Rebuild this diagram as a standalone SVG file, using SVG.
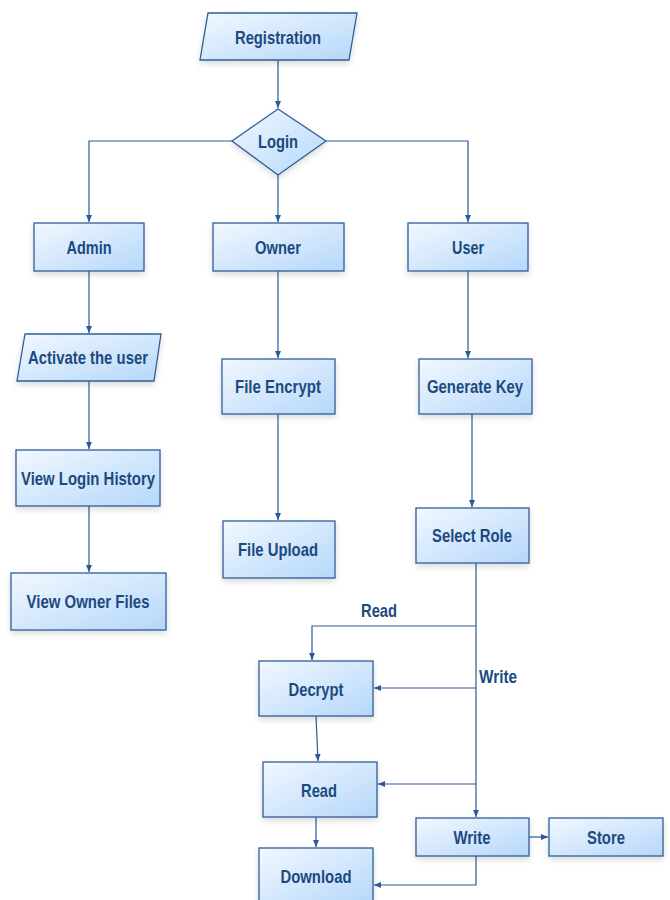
<svg xmlns="http://www.w3.org/2000/svg" width="670" height="900" viewBox="0 0 670 900">
<defs>
<linearGradient id="g" x1="0" y1="0" x2="1" y2="1">
<stop offset="0" stop-color="#f2f8ff"/>
<stop offset="1" stop-color="#b5d7fa"/>
</linearGradient>
<filter id="sh" x="-20%" y="-20%" width="140%" height="150%">
<feGaussianBlur in="SourceAlpha" stdDeviation="3"/>
<feOffset dx="0" dy="3"/>
<feComponentTransfer><feFuncA type="linear" slope="0.15"/></feComponentTransfer>
<feMerge><feMergeNode/><feMergeNode in="SourceGraphic"/></feMerge>
</filter>
<marker id="ah" markerWidth="8" markerHeight="8" refX="7" refY="4" orient="auto" markerUnits="userSpaceOnUse">
<path d="M0,1 L7,4 L0,7 Z" fill="#2a5b96"/>
</marker>
</defs>
<style>
.n{fill:url(#g);stroke:#2f5f98;stroke-width:1.3;filter:url(#sh)}
.t{font-family:"Liberation Sans",Arial,sans-serif;font-weight:bold;font-size:18.5px;fill:#1d4a7e;text-anchor:middle;dominant-baseline:central}
.c{fill:none;stroke:#2a5b96;stroke-width:1.2}
.a{marker-end:url(#ah)}
.l{font-family:"Liberation Sans",Arial,sans-serif;font-weight:bold;font-size:18.5px;fill:#1d4a7e}
</style>
<rect width="670" height="900" fill="#fff"/>
<g id="connectors">
<path class="c a" d="M278,60 L278,108"/>
<path class="c a" d="M232,141 L89,141 L89,222"/>
<path class="c a" d="M278,175 L278,222"/>
<path class="c a" d="M326,141 L468,141 L468,222"/>
<path class="c a" d="M89,271 L89,333"/>
<path class="c a" d="M89,381 L89,449"/>
<path class="c a" d="M89,506 L89,572"/>
<path class="c a" d="M278,271 L278,358"/>
<path class="c a" d="M278,414 L278,520"/>
<path class="c a" d="M468,271 L468,358"/>
<path class="c a" d="M472,414 L472,507"/>
<path class="c a" d="M476,563 L476,817"/>
<path class="c a" d="M476,626 L312,626 L312,660"/>
<path class="c a" d="M476,688 L374,688"/>
<path class="c a" d="M476,784 L378,784"/>
<path class="c a" d="M316,716 L318,761"/>
<path class="c a" d="M316,817 L316,847"/>
<path class="c a" d="M529,837 L548,837"/>
<path class="c a" d="M476,856 L476,885 L374,885"/>
<text class="l" x="361" y="617" textLength="36" lengthAdjust="spacingAndGlyphs">Read</text>
<text class="l" x="479" y="683" textLength="38" lengthAdjust="spacingAndGlyphs">Write</text>
</g>
<g id="registration"><polygon class="n" points="208,13 357,13 349,60 200,60"/><text class="t" x="278" y="37" textLength="86" lengthAdjust="spacingAndGlyphs">Registration</text></g>
<g id="login"><polygon class="n" points="278,109 326,141 278,175 232,141"/><text class="t" x="278" y="141" textLength="40" lengthAdjust="spacingAndGlyphs">Login</text></g>
<g id="admin"><rect class="n" x="34" y="223" width="110" height="48"/><text class="t" x="89" y="247" textLength="45" lengthAdjust="spacingAndGlyphs">Admin</text></g>
<g id="owner"><rect class="n" x="213" y="223" width="131" height="48"/><text class="t" x="278" y="247" textLength="46" lengthAdjust="spacingAndGlyphs">Owner</text></g>
<g id="user"><rect class="n" x="408" y="223" width="120" height="48"/><text class="t" x="468" y="247" textLength="32" lengthAdjust="spacingAndGlyphs">User</text></g>
<g id="activate"><polygon class="n" points="25,334 161,334 154,381 17,381"/><text class="t" x="88" y="357" textLength="120" lengthAdjust="spacingAndGlyphs">Activate the user</text></g>
<g id="viewlogin"><rect class="n" x="16" y="450" width="144" height="56"/><text class="t" x="88" y="478" textLength="134" lengthAdjust="spacingAndGlyphs">View Login History</text></g>
<g id="viewowner"><rect class="n" x="11" y="573" width="155" height="57"/><text class="t" x="88" y="601" textLength="123" lengthAdjust="spacingAndGlyphs">View Owner Files</text></g>
<g id="fileencrypt"><rect class="n" x="222" y="359" width="113" height="55"/><text class="t" x="278" y="386" textLength="86" lengthAdjust="spacingAndGlyphs">File Encrypt</text></g>
<g id="fileupload"><rect class="n" x="223" y="521" width="112" height="57"/><text class="t" x="278" y="549" textLength="80" lengthAdjust="spacingAndGlyphs">File Upload</text></g>
<g id="generatekey"><rect class="n" x="419" y="359" width="113" height="55"/><text class="t" x="475" y="386" textLength="96" lengthAdjust="spacingAndGlyphs">Generate Key</text></g>
<g id="selectrole"><rect class="n" x="416" y="508" width="113" height="55"/><text class="t" x="472" y="535" textLength="80" lengthAdjust="spacingAndGlyphs">Select Role</text></g>
<g id="decrypt"><rect class="n" x="259" y="661" width="114" height="55"/><text class="t" x="316" y="689" textLength="55" lengthAdjust="spacingAndGlyphs">Decrypt</text></g>
<g id="read"><rect class="n" x="263" y="762" width="114" height="55"/><text class="t" x="319" y="790" textLength="36" lengthAdjust="spacingAndGlyphs">Read</text></g>
<g id="download"><rect class="n" x="259" y="848" width="114" height="57"/><text class="t" x="316" y="876" textLength="71" lengthAdjust="spacingAndGlyphs">Download</text></g>
<g id="write"><rect class="n" x="416" y="818" width="113" height="38"/><text class="t" x="472" y="837" textLength="37" lengthAdjust="spacingAndGlyphs">Write</text></g>
<g id="store"><rect class="n" x="549" y="818" width="114" height="38"/><text class="t" x="606" y="837" textLength="38" lengthAdjust="spacingAndGlyphs">Store</text></g>
</svg>
